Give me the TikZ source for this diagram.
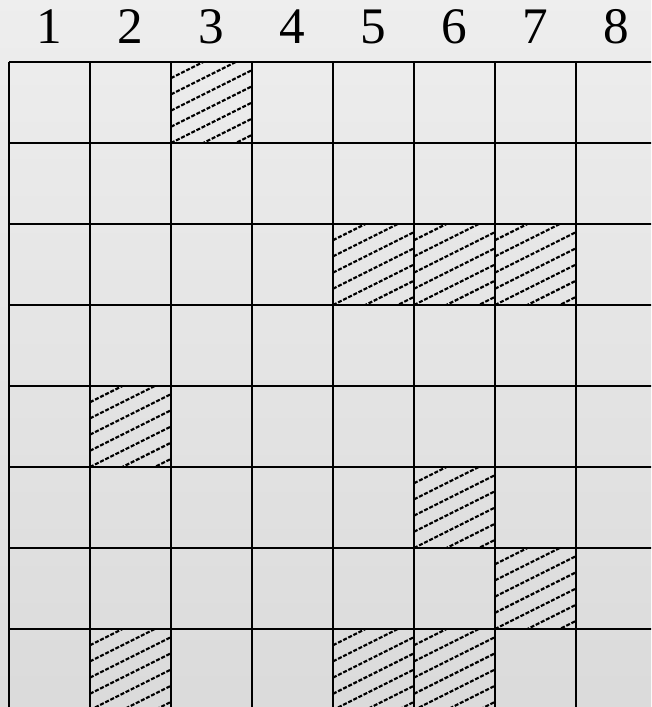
\documentclass[tikz,border=0pt]{standalone}
\usepackage{fontspec}
\setmainfont{Liberation Serif}
\pgfdeclareverticalshading{paper}{100bp}{color(0bp)=(black!18); color(100bp)=(black!3)}
\begin{document}
\begin{tikzpicture}[scale=1.0,
  grid/.style={line width=.75pt},
  hatch/.style={line width=.75pt,dash pattern=on 1.4pt off .6pt},
  num/.style={font=\fontsize{18}{20}\selectfont,inner sep=0pt}]
\useasboundingbox (-0.111,0.765) rectangle (7.926,-7.963);
\shade[shading=paper] (-0.111,0.765) rectangle (7.926,-7.963);
\clip (-0.111,0.765) rectangle (7.926,-7.963);
% hatched cells (column/row)
\foreach \c/\r in {3/1,5/3,6/3,7/3,2/5,6/6,7/7,2/8,5/8,6/8} {
  \begin{scope}
    \clip (\c-1,-\r) rectangle (\c,-\r+1);
    \foreach \k in {0,...,8}
      \draw[hatch] (\c-1,-\r+0.2*\k-0.6) -- (\c,-\r+0.2*\k-0.1);
  \end{scope}
}
\draw[grid] (0,0) -- (8,0);
\draw[grid] (0,-1) -- (8,-1);
\draw[grid] (0,-2) -- (8,-2);
\draw[grid] (0,-3) -- (8,-3);
\draw[grid] (0,-4) -- (8,-4);
\draw[grid] (0,-5) -- (8,-5);
\draw[grid] (0,-6) -- (8,-6);
\draw[grid] (0,-7) -- (8,-7);
\draw[grid] (0,0) -- (0,-8.1);
\draw[grid] (1,0) -- (1,-8.1);
\draw[grid] (2,0) -- (2,-8.1);
\draw[grid] (3,0) -- (3,-8.1);
\draw[grid] (4,0) -- (4,-8.1);
\draw[grid] (5,0) -- (5,-8.1);
\draw[grid] (6,0) -- (6,-8.1);
\draw[grid] (7,0) -- (7,-8.1);
\draw[grid] (8,0) -- (8,-8.1);
\foreach \i in {1,...,8}
  \node[num] (n\i) at (\i-0.5,0.438) {\i};
\end{tikzpicture}
\end{document}
